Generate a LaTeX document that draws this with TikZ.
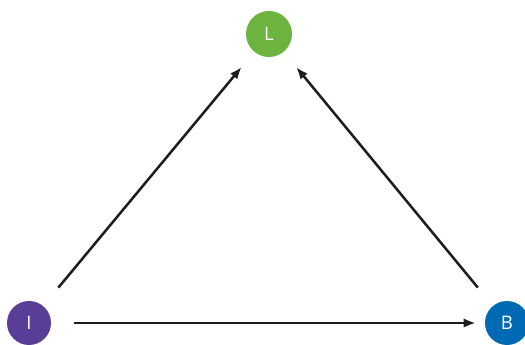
\documentclass[tikz,border=0pt]{standalone}
\usepackage{fontspec}
\setsansfont{Open Sans}
\usetikzlibrary{arrows.meta}
\definecolor{lgreen}{HTML}{6CB33F}
\definecolor{ipurple}{HTML}{5A3D96}
\definecolor{bblue}{HTML}{0069B4}
\definecolor{arrowgray}{HTML}{1E1E1E}

\begin{document}
\begin{tikzpicture}[x=0.75pt,y=-0.75pt,line width=1.9pt,font=\sffamily\fontsize{14}{16}\selectfont,
  vert/.style={circle,minimum size=34.5pt,inner sep=0pt,text=white},
  link/.style={draw=arrowgray,-{Latex[length=9pt,width=7pt]}}]
\useasboundingbox (0,0) rectangle (525,345);
\node[vert,fill=lgreen] (L) at (269,34) {L};
\node[vert,fill=ipurple,minimum size=33pt] (I) at (29,323) {I};
\node[vert,fill=bblue,minimum size=33pt] (B) at (507,323) {B};
\draw[link,shorten <=17pt,shorten >=14pt] (I) -- (L);
\draw[link,shorten <=17pt,shorten >=14pt] (B) -- (L);
\draw[link,shorten <=16pt,shorten >=6pt] (I) -- (B);
\end{tikzpicture}
\end{document}
